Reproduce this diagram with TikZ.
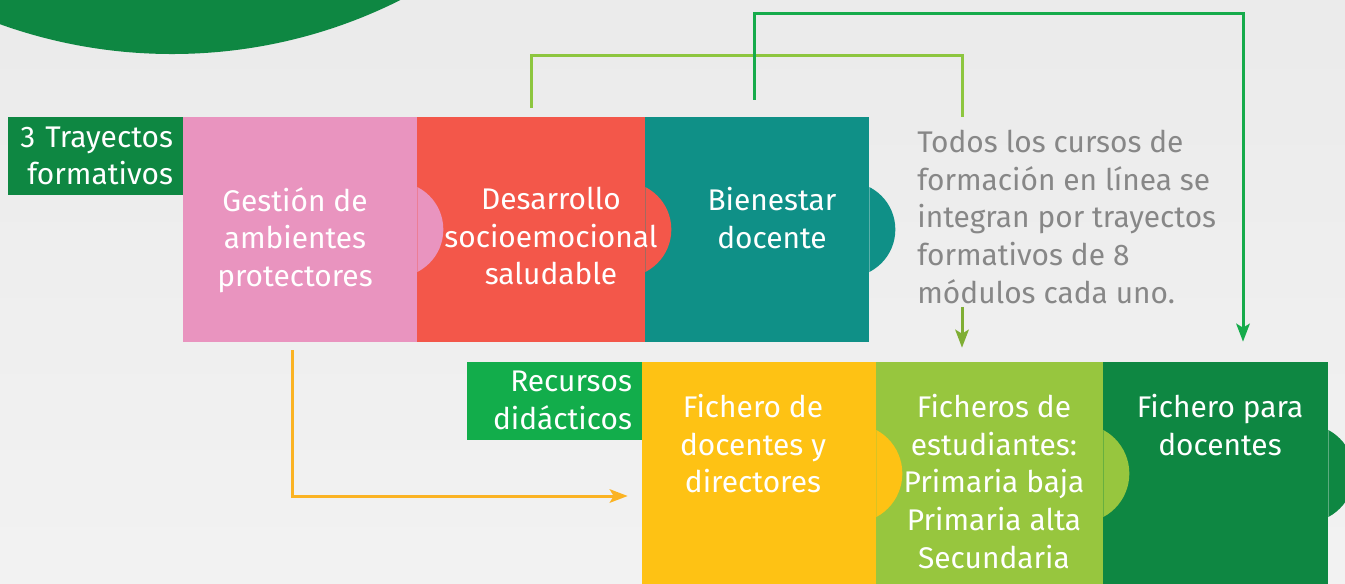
\documentclass[tikz,border=0pt]{standalone}
\usepackage{fontspec}
\setmainfont{Fira Sans}
\usetikzlibrary{arrows.meta}
\definecolor{verdeosc}{HTML}{0E8742}
\definecolor{verdemed}{HTML}{12AD4B}
\definecolor{rosa}{HTML}{E994BF}
\definecolor{rojo}{HTML}{F3574A}
\definecolor{turquesa}{HTML}{0F9087}
\definecolor{amarillo}{HTML}{FEC214}
\definecolor{verdeclaro}{HTML}{97C63E}
\definecolor{lineaclara}{HTML}{8DC63F}
\definecolor{lineaolivo}{HTML}{7FAE34}
\definecolor{lineaverde}{HTML}{16AB4B}
\definecolor{naranja}{HTML}{FBB323}
\definecolor{gristxt}{HTML}{878787}
\newcommand\tx{\fontsize{17}{21.4}\selectfont\hyphenpenalty=10000}

\begin{document}
\begin{tikzpicture}[x=0.02cm,y=-0.02cm,
  pieza/.style={rectangle,inner sep=0,minimum height=4.5cm},
  rotulo/.style={rectangle,fill=#1,text=white,inner xsep=0.2cm,minimum width=3.5cm,
    minimum height=1.56cm,text width=3.1cm,align=right,font=\tx},
  txt/.style={anchor=north,text=white,align=center,inner sep=0,font=\tx},
  linea/.style={line width=0.06cm,draw=#1},
  punta/.style={-{Stealth[length=0.36cm,width=0.27cm,inset=0.08cm]}}]
\useasboundingbox (0,0) rectangle (1345,583);
\clip (0,0) rectangle (1345,583);
\shade[top color=black!8,bottom color=black!5] (0,0) rectangle (1345,583);
\fill[verdeosc] (172,-455) circle[radius=509];

% trayectos formativos
\node[pieza,fill=rosa,minimum width=4.68cm] (gestion) at (300,229.5) {};
\node[pieza,fill=rojo,minimum width=4.56cm] (desarrollo) at (531,229.5) {};
\node[pieza,fill=turquesa,minimum width=4.48cm] (bienestar) at (757,229.5) {};
\foreach \b/\c in {gestion/rosa,desarrollo/rojo,bienestar/turquesa}{
  \begin{scope}
    \clip (\b.north east) rectangle ([xshift=1cm]\b.south east);
    \fill[\c] ([xshift=-0.434cm]\b.east) circle[radius=47.7];
  \end{scope}
}
\node[rotulo=verdeosc] (trayectos) at (95.5,156) {3 Trayectos\\formativos};
\node[txt] (gestiont) at (295,187) {Gestión de\\ambientes\\protectores};
\node[txt] (desarrollot) at (551,187) {Desarrollo\\socioemocional\\saludable};
\node[txt] (bienestart) at (772,187) {Bienestar\\docente};
\node[anchor=north west,inner sep=0,align=left,text=gristxt,font=\tx] (nota) at (917,130)
  {Todos los cursos de\\formación en línea se\\integran por trayectos\\formativos de 8\\módulos cada uno.};

% recursos didacticos
\node[pieza,fill=amarillo,minimum width=4.68cm,minimum height=4.56cm] (fdocentes) at (759,476) {};
\node[pieza,fill=verdeclaro,minimum width=4.54cm,minimum height=4.56cm] (festudiantes) at (989.5,476) {};
\node[pieza,fill=verdeosc,minimum width=4.5cm,minimum height=4.56cm] (fpara) at (1215.5,476) {};
\foreach \b/\c in {fdocentes/amarillo,festudiantes/verdeclaro,fpara/verdeosc}{
  \begin{scope}
    \clip (\b.north east) rectangle ([xshift=1cm]\b.south east);
    \fill[\c] ([xshift=-0.468cm,yshift=0.05cm]\b.east) circle[radius=49.4];
  \end{scope}
}
\node[rotulo=verdemed] (recursos) at (554.5,400.5) {Recursos\\didácticos};
\node[txt] (fdocentest) at (753,394) {Fichero de\\docentes y\\directores};
\node[txt] (festudiantest) at (994,394) {Ficheros de\\estudiantes:\\Primaria baja\\Primaria alta\\Secundaria};
\node[txt] (fparat) at (1220,394) {Fichero para\\docentes};

% conectores
\coordinate (codoclaro) at (962,55);
\coordinate (codoverde) at (1243,13);
\draw[linea=lineaclara] ([yshift=0.18cm]desarrollo.north) |- (codoclaro)
  -- ([yshift=0.26cm]codoclaro |- nota.north);
\draw[linea=lineaolivo,punta] ([yshift=-0.06cm]codoclaro |- nota.south)
  -- ([yshift=0.28cm]codoclaro |- festudiantes.north);
\draw[linea=lineaverde,punta] ([xshift=-0.06cm,yshift=0.34cm]bienestar.north) |- (codoverde)
  -- ([yshift=0.4cm]codoverde |- fpara.north);
\draw[linea=naranja,punta] ([xshift=-0.16cm,yshift=-0.16cm]gestion.south)
  |- ([xshift=-0.28cm,yshift=-0.4cm]fdocentes.west);
\end{tikzpicture}
\end{document}
